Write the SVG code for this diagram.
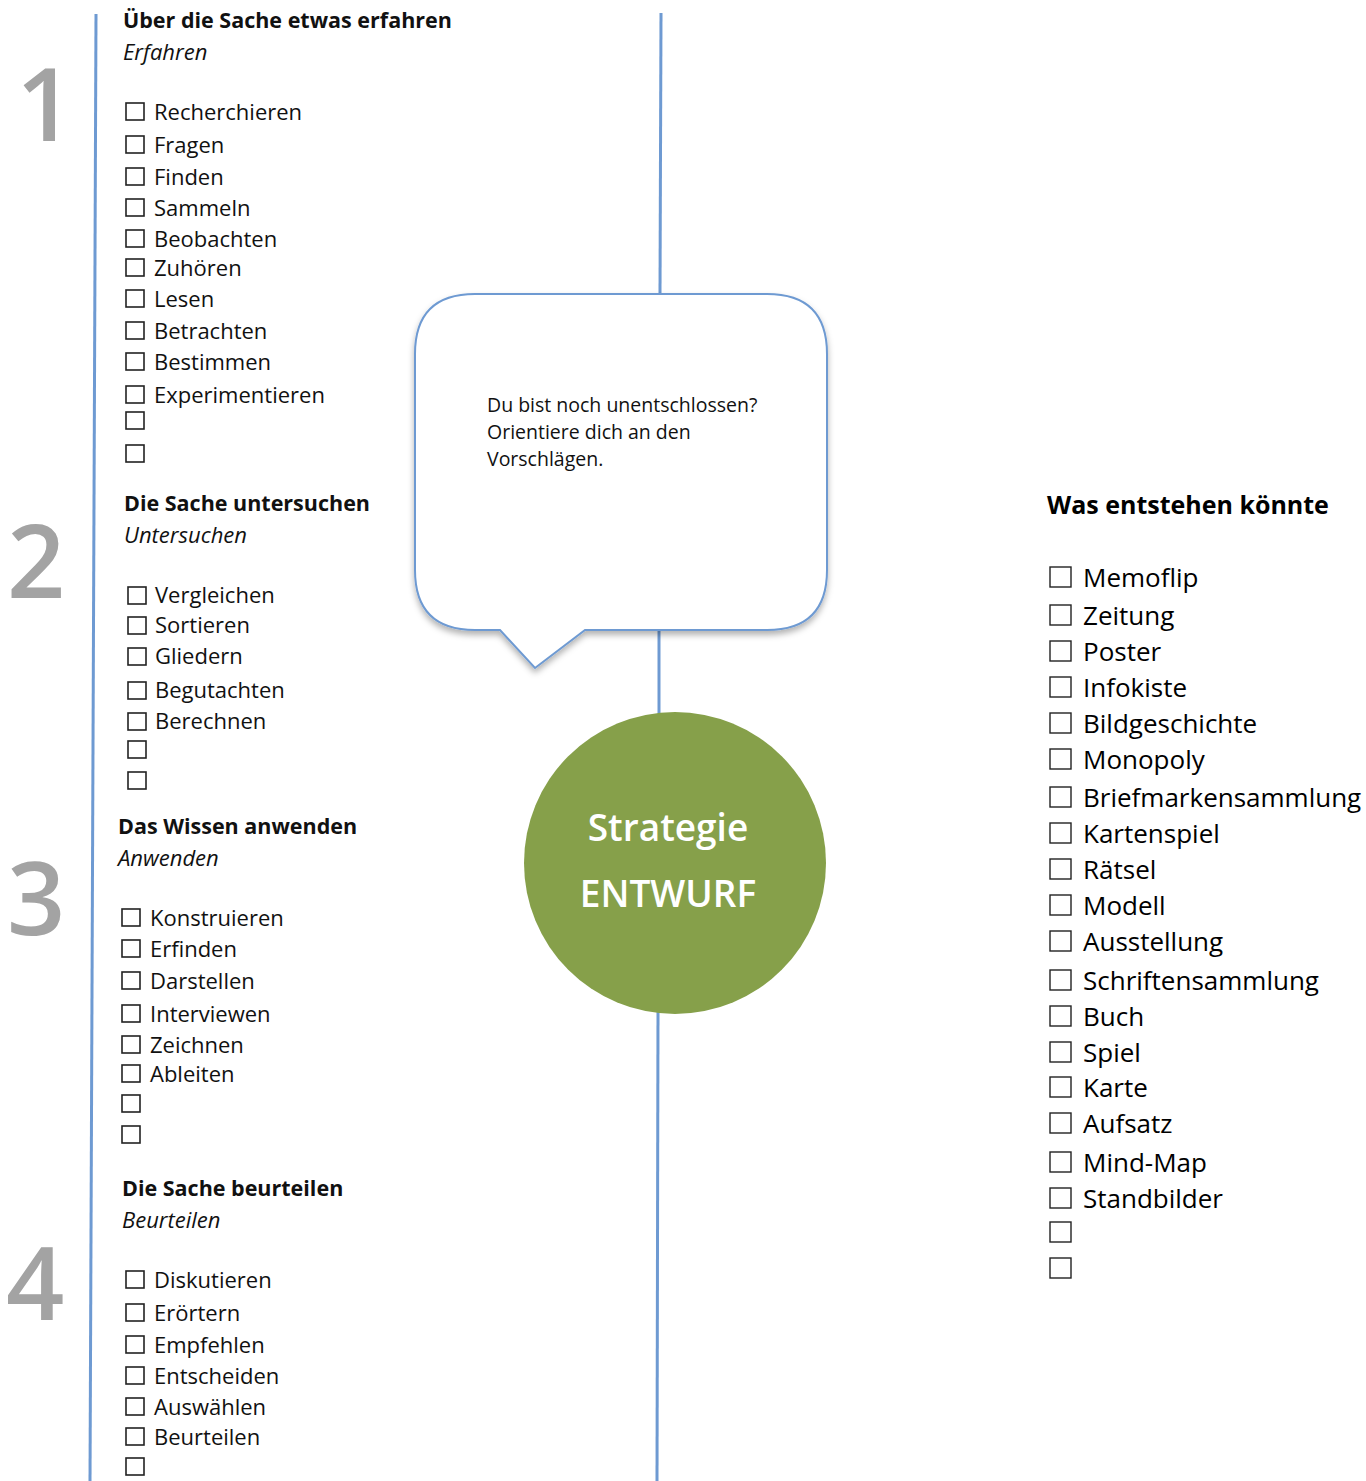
<svg xmlns="http://www.w3.org/2000/svg" width="1366" height="1481" viewBox="0 0 1366 1481">
<style>
.num{font-family:"Open Sans","Liberation Sans",sans-serif;font-size:102px;font-weight:600;fill:#a3a3a3}
.h{font-family:"Open Sans","Liberation Sans",sans-serif;font-size:21.5px;font-weight:bold;fill:#111}
.s{font-family:"Open Sans","Liberation Sans",sans-serif;font-size:22px;font-style:italic;fill:#111}
.t{font-family:"Open Sans","Liberation Sans",sans-serif;font-size:22px;fill:#111}
.rh{font-family:"Open Sans","Liberation Sans",sans-serif;font-size:25px;font-weight:bold;fill:#000}
.rt{font-family:"Open Sans","Liberation Sans",sans-serif;font-size:26px;fill:#000}
.bt{font-family:"Open Sans","Liberation Sans",sans-serif;font-size:19.5px;fill:#111}
.ct{font-family:"Open Sans","Liberation Sans",sans-serif;font-size:37px;font-weight:600;fill:#fff;text-anchor:middle}
.cb{fill:#fff;stroke:#222;stroke-width:1.6}
.rb{fill:#fff;stroke:#222;stroke-width:1.4}
.ln{stroke:#6e9ad2;stroke-width:3;fill:none}
</style>
<defs>
<rect id="b" class="cb" x="0" y="0" width="18" height="17"/>
<rect id="rbx" class="rb" x="0" y="0" width="21" height="20"/>
<filter id="sh" x="-10%" y="-10%" width="120%" height="130%">
<feDropShadow dx="0" dy="4" stdDeviation="3" flood-color="#000" flood-opacity="0.3"/>
</filter>
</defs>
<rect width="1366" height="1481" fill="#fff"/>

<g id="connectors">
<line class="ln" x1="96" y1="14" x2="90" y2="1481"/>
<line class="ln" x1="661" y1="13" x2="660" y2="295"/>
<line class="ln" x1="659" y1="629" x2="659" y2="714"/>
<line class="ln" x1="658" y1="1012" x2="657" y2="1481"/>
</g>

<g id="numbers">
<text class="num" x="16" y="141">1</text>
<text class="num" x="7" y="598">2</text>
<text class="num" x="7" y="935">3</text>
<text class="num" x="6" y="1320">4</text>
</g>

<g id="section1">
<text class="h" x="123" y="28">Über die Sache etwas erfahren</text>
<text class="s" x="123" y="60">Erfahren</text>
<use href="#b" x="126" y="103"/><text class="t" x="154" y="120">Recherchieren</text>
<use href="#b" x="126" y="136"/><text class="t" x="154" y="153">Fragen</text>
<use href="#b" x="126" y="168"/><text class="t" x="154" y="185">Finden</text>
<use href="#b" x="126" y="199"/><text class="t" x="154" y="216">Sammeln</text>
<use href="#b" x="126" y="230"/><text class="t" x="154" y="247">Beobachten</text>
<use href="#b" x="126" y="259"/><text class="t" x="154" y="276">Zuhören</text>
<use href="#b" x="126" y="290"/><text class="t" x="154" y="307">Lesen</text>
<use href="#b" x="126" y="322"/><text class="t" x="154" y="339">Betrachten</text>
<use href="#b" x="126" y="353"/><text class="t" x="154" y="370">Bestimmen</text>
<use href="#b" x="126" y="386"/><text class="t" x="154" y="403">Experimentieren</text>
<use href="#b" x="126" y="412"/>
<use href="#b" x="126" y="445"/>
</g>

<g id="section2">
<text class="h" x="124" y="511">Die Sache untersuchen</text>
<text class="s" x="124" y="543">Untersuchen</text>
<use href="#b" x="128" y="587"/><text class="t" x="155" y="603">Vergleichen</text>
<use href="#b" x="128" y="617"/><text class="t" x="155" y="633">Sortieren</text>
<use href="#b" x="128" y="648"/><text class="t" x="155" y="664">Gliedern</text>
<use href="#b" x="128" y="682"/><text class="t" x="155" y="698">Begutachten</text>
<use href="#b" x="128" y="713"/><text class="t" x="155" y="729">Berechnen</text>
<use href="#b" x="128" y="741"/>
<use href="#b" x="128" y="772"/>
</g>

<g id="section3">
<text class="h" x="118" y="834">Das Wissen anwenden</text>
<text class="s" x="118" y="866">Anwenden</text>
<use href="#b" x="122" y="909"/><text class="t" x="150" y="926">Konstruieren</text>
<use href="#b" x="122" y="940"/><text class="t" x="150" y="957">Erfinden</text>
<use href="#b" x="122" y="972"/><text class="t" x="150" y="989">Darstellen</text>
<use href="#b" x="122" y="1005"/><text class="t" x="150" y="1022">Interviewen</text>
<use href="#b" x="122" y="1036"/><text class="t" x="150" y="1053">Zeichnen</text>
<use href="#b" x="122" y="1065"/><text class="t" x="150" y="1082">Ableiten</text>
<use href="#b" x="122" y="1095"/>
<use href="#b" x="122" y="1126"/>
</g>

<g id="section4">
<text class="h" x="122" y="1196">Die Sache beurteilen</text>
<text class="s" x="122" y="1228">Beurteilen</text>
<use href="#b" x="126" y="1271"/><text class="t" x="154" y="1288">Diskutieren</text>
<use href="#b" x="126" y="1304"/><text class="t" x="154" y="1321">Erörtern</text>
<use href="#b" x="126" y="1336"/><text class="t" x="154" y="1353">Empfehlen</text>
<use href="#b" x="126" y="1367"/><text class="t" x="154" y="1384">Entscheiden</text>
<use href="#b" x="126" y="1398"/><text class="t" x="154" y="1415">Auswählen</text>
<use href="#b" x="126" y="1428"/><text class="t" x="154" y="1445">Beurteilen</text>
<use href="#b" x="126" y="1458"/>
</g>

<g id="bubble">
<path d="M475,294 H767 Q827,294 827,354 V570 Q827,630 767,630 H585 L535,668 L500,630 H475 Q415,630 415,570 V354 Q415,294 475,294 Z" fill="#fff" stroke="#6e9ad2" stroke-width="2" filter="url(#sh)"/>
<text class="bt" x="487" y="412">Du bist noch unentschlossen?</text>
<text class="bt" x="487" y="439">Orientiere dich an den</text>
<text class="bt" x="487" y="466">Vorschlägen.</text>
</g>

<g id="circle">
<circle cx="675" cy="863" r="151" fill="#86a04a"/>
<text class="ct" x="668" y="841">Strategie</text>
<text class="ct" x="668" y="907">ENTWURF</text>
</g>

<g id="products">
<text class="rh" x="1047" y="514">Was entstehen könnte</text>
<use href="#rbx" x="1050" y="567"/><text class="rt" x="1083" y="587">Memoflip</text>
<use href="#rbx" x="1050" y="605"/><text class="rt" x="1083" y="625">Zeitung</text>
<use href="#rbx" x="1050" y="641"/><text class="rt" x="1083" y="661">Poster</text>
<use href="#rbx" x="1050" y="677"/><text class="rt" x="1083" y="697">Infokiste</text>
<use href="#rbx" x="1050" y="713"/><text class="rt" x="1083" y="733">Bildgeschichte</text>
<use href="#rbx" x="1050" y="749"/><text class="rt" x="1083" y="769">Monopoly</text>
<use href="#rbx" x="1050" y="787"/><text class="rt" x="1083" y="807">Briefmarkensammlung</text>
<use href="#rbx" x="1050" y="823"/><text class="rt" x="1083" y="843">Kartenspiel</text>
<use href="#rbx" x="1050" y="859"/><text class="rt" x="1083" y="879">Rätsel</text>
<use href="#rbx" x="1050" y="895"/><text class="rt" x="1083" y="915">Modell</text>
<use href="#rbx" x="1050" y="931"/><text class="rt" x="1083" y="951">Ausstellung</text>
<use href="#rbx" x="1050" y="970"/><text class="rt" x="1083" y="990">Schriftensammlung</text>
<use href="#rbx" x="1050" y="1006"/><text class="rt" x="1083" y="1026">Buch</text>
<use href="#rbx" x="1050" y="1042"/><text class="rt" x="1083" y="1062">Spiel</text>
<use href="#rbx" x="1050" y="1077"/><text class="rt" x="1083" y="1097">Karte</text>
<use href="#rbx" x="1050" y="1113"/><text class="rt" x="1083" y="1133">Aufsatz</text>
<use href="#rbx" x="1050" y="1152"/><text class="rt" x="1083" y="1172">Mind-Map</text>
<use href="#rbx" x="1050" y="1188"/><text class="rt" x="1083" y="1208">Standbilder</text>
<use href="#rbx" x="1050" y="1222"/>
<use href="#rbx" x="1050" y="1258"/>
</g>
</svg>
